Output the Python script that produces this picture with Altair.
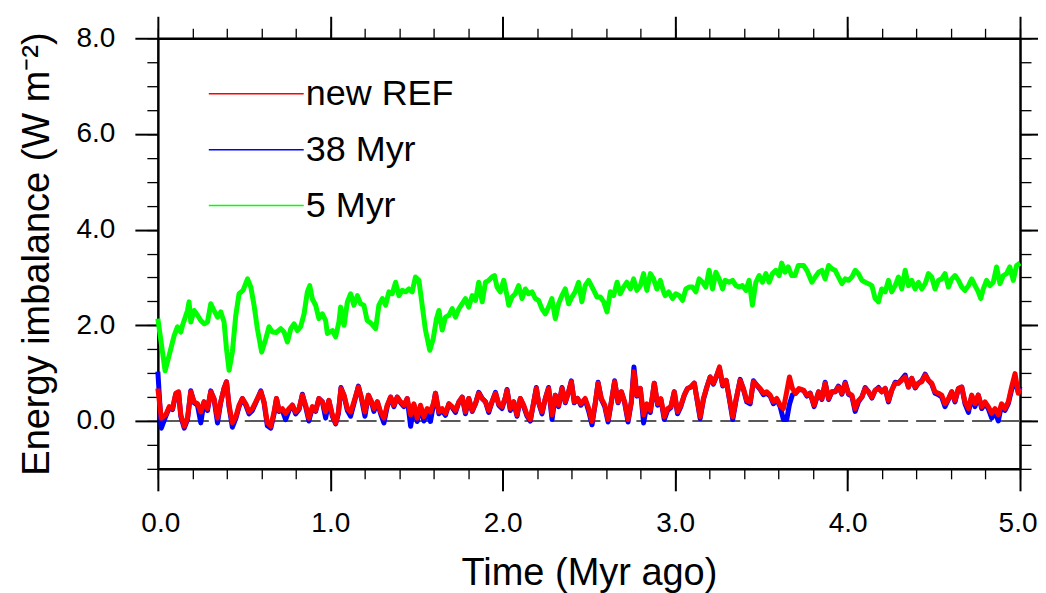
import altair as alt
import pandas as pd

# ---------------- data ----------------
# time axis (Myr ago) shared by "new REF" and "38 Myr"
t_ref = [
    0.0, 0.02, 0.046, 0.066, 0.085, 0.104, 0.12, 0.133, 0.153, 0.172,
    0.191, 0.21, 0.23, 0.249, 0.268, 0.288, 0.307, 0.326, 0.346, 0.365,
    0.384, 0.398, 0.413, 0.432, 0.452, 0.471, 0.49, 0.51, 0.529, 0.548,
    0.568, 0.597, 0.616, 0.635, 0.655, 0.674, 0.688, 0.703, 0.722, 0.741,
    0.761, 0.78, 0.799, 0.819, 0.838, 0.857, 0.876, 0.896, 0.915, 0.934,
    0.954, 0.973, 0.992, 1.012, 1.031, 1.047, 1.062, 1.08, 1.099, 1.118,
    1.137, 1.163, 1.182, 1.201, 1.221, 1.24, 1.253, 1.273, 1.292, 1.311,
    1.33, 1.35, 1.369, 1.388, 1.408, 1.427, 1.446, 1.466, 1.485, 1.504,
    1.523, 1.543, 1.562, 1.581, 1.601, 1.61, 1.63, 1.649, 1.668, 1.688,
    1.707, 1.726, 1.746, 1.765, 1.784, 1.803, 1.823, 1.842, 1.861, 1.881,
    1.9, 1.919, 1.938, 1.958, 1.977, 1.996, 2.016, 2.025, 2.044, 2.064,
    2.083, 2.102, 2.122, 2.141, 2.16, 2.18, 2.195, 2.208, 2.228, 2.247,
    2.266, 2.286, 2.305, 2.324, 2.344, 2.363, 2.382, 2.398, 2.415, 2.434,
    2.453, 2.478, 2.499, 2.518, 2.538, 2.553, 2.572, 2.592, 2.611, 2.63,
    2.649, 2.669, 2.688, 2.707, 2.727, 2.746, 2.761, 2.778, 2.798, 2.817,
    2.836, 2.856, 2.879, 2.898, 2.917, 2.937, 2.956, 2.975, 2.995, 3.014,
    3.033, 3.053, 3.072, 3.091, 3.111, 3.13, 3.145, 3.164, 3.184, 3.203,
    3.222, 3.242, 3.257, 3.276, 3.296, 3.315, 3.334, 3.354, 3.377, 3.396,
    3.415, 3.435, 3.454, 3.473, 3.493, 3.512, 3.531, 3.551, 3.57, 3.589,
    3.609, 3.628, 3.647, 3.663, 3.68, 3.699, 3.718, 3.745, 3.764, 3.783,
    3.806, 3.832, 3.851, 3.87, 3.89, 3.909, 3.928, 3.947, 3.967, 3.986,
    4.005, 4.025, 4.044, 4.063, 4.083, 4.102, 4.121, 4.141, 4.16, 4.179,
    4.198, 4.218, 4.237, 4.256, 4.276, 4.295, 4.314, 4.334, 4.353, 4.372,
    4.392, 4.411, 4.43, 4.45, 4.469, 4.488, 4.507, 4.527, 4.546, 4.565,
    4.585, 4.604, 4.623, 4.643, 4.662, 4.681, 4.701, 4.72, 4.739, 4.758,
    4.778, 4.797, 4.816, 4.836, 4.855, 4.874, 4.893, 4.913, 4.932, 4.951,
    4.971, 4.99, 5.0,
]

# "new REF" energy imbalance (W m-2)
v_ref = [
    0.68, 0.06, 0.13, 0.30, 0.26, 0.58, 0.61, 0.13, -0.11, 0.06,
    0.61, 0.40, 0.36, 0.19, 0.40, 0.26, 0.61, 0.47, 0.06, 0.40,
    0.68, 0.82, 0.33, -0.04, 0.09, 0.33, 0.47, 0.36, 0.19, 0.26,
    0.40, 0.61, 0.40, -0.04, -0.11, 0.19, 0.47, 0.22, 0.26, 0.16,
    0.26, 0.33, 0.19, 0.26, 0.54, 0.33, 0.06, 0.30, 0.22, 0.47,
    0.40, 0.19, 0.43, 0.13, -0.04, 0.19, 0.68, 0.54, 0.26, 0.19,
    0.40, 0.71, 0.47, 0.19, 0.54, 0.40, 0.26, 0.40, 0.19, 0.06,
    0.33, 0.50, 0.33, 0.50, 0.40, 0.33, 0.47, 0.13, 0.36, 0.06,
    0.33, 0.09, 0.26, 0.19, 0.40, 0.58, 0.19, 0.26, 0.16, 0.36,
    0.30, 0.22, 0.40, 0.50, 0.19, 0.47, 0.22, 0.36, 0.58, 0.47,
    0.40, 0.22, 0.40, 0.58, 0.36, 0.30, 0.50, 0.64, 0.26, 0.40,
    0.13, 0.47, 0.33, 0.13, 0.03, 0.40, 0.68, 0.40, 0.19, 0.47,
    0.68, 0.13, 0.54, 0.33, 0.68, 0.40, 0.61, 0.82, 0.40, 0.47,
    0.36, 0.47, 0.26, -0.01, 0.40, 0.79, 0.47, 0.33, 0.03, 0.40,
    0.82, 0.40, 0.61, 0.40, 0.03, 0.40, 1.03, 0.54, 0.68, 0.13,
    0.36, 0.22, 0.79, 0.36, 0.47, 0.09, 0.26, 0.30, 0.61, 0.19,
    0.33, 0.54, 0.68, 0.71, 0.79, 0.40, 0.09, 0.47, 0.71, 0.92,
    0.79, 0.96, 1.13, 0.75, 0.85, 0.47, 0.09, 0.47, 0.85, 0.68,
    0.43, 0.40, 0.82, 0.75, 0.68, 0.58, 0.61, 0.54, 0.40, 0.47,
    0.33, 0.26, 0.61, 0.92, 0.68, 0.58, 0.68, 0.64, 0.54, 0.58,
    0.33, 0.61, 0.47, 0.79, 0.47, 0.61, 0.61, 0.71, 0.58, 0.79,
    0.58, 0.54, 0.26, 0.43, 0.50, 0.68, 0.61, 0.50, 0.64, 0.68,
    0.61, 0.68, 0.43, 0.64, 0.79, 0.79, 0.85, 0.92, 0.71, 0.89,
    0.71, 0.79, 0.82, 0.96, 0.85, 0.79, 0.61, 0.58, 0.54, 0.36,
    0.47, 0.61, 0.43, 0.68, 0.71, 0.40, 0.26, 0.54, 0.36, 0.54,
    0.30, 0.40, 0.30, 0.16, 0.26, 0.13, 0.36, 0.26, 0.40, 0.71,
    0.99, 0.58, 0.68,
]

# "38 Myr" energy imbalance (W m-2)
v_38 = [
    1.03, -0.15, 0.10, 0.28, 0.24, 0.56, 0.60, 0.10, -0.15, 0.03,
    0.63, 0.38, 0.33, -0.04, 0.40, 0.22, 0.63, 0.45, -0.04, 0.40,
    0.68, 0.82, 0.30, -0.13, 0.05, 0.30, 0.47, 0.33, 0.15, 0.22,
    0.38, 0.63, 0.38, -0.10, -0.15, 0.15, 0.47, 0.20, 0.22, 0.03,
    0.22, 0.33, 0.15, 0.24, 0.56, 0.30, 0.00, 0.28, 0.20, 0.47,
    0.40, 0.06, 0.43, 0.10, -0.06, 0.15, 0.70, 0.52, 0.22, 0.10,
    0.36, 0.73, 0.45, 0.10, 0.54, 0.38, 0.20, 0.40, 0.15, -0.04,
    0.30, 0.50, 0.30, 0.50, 0.38, 0.30, 0.47, -0.11, 0.33, -0.01,
    0.30, 0.00, 0.22, -0.01, 0.40, 0.58, 0.15, 0.22, 0.12, 0.36,
    0.28, 0.18, 0.40, 0.50, 0.15, 0.47, 0.20, 0.36, 0.60, 0.47,
    0.40, 0.18, 0.40, 0.60, 0.33, 0.26, 0.50, 0.66, 0.22, 0.40,
    0.10, 0.47, 0.30, 0.10, 0.00, 0.40, 0.70, 0.38, 0.15, 0.47,
    0.70, 0.03, 0.54, 0.30, 0.70, 0.38, 0.61, 0.84, 0.38, 0.47,
    0.33, 0.45, 0.20, -0.08, 0.40, 0.81, 0.45, 0.30, -0.02, 0.40,
    0.84, 0.38, 0.61, 0.38, -0.02, 0.40, 1.13, 0.52, 0.68, -0.04,
    0.33, 0.18, 0.79, 0.33, 0.45, 0.03, 0.22, 0.28, 0.61, 0.15,
    0.30, 0.54, 0.68, 0.71, 0.79, 0.38, 0.05, 0.45, 0.71, 0.92,
    0.77, 0.96, 1.10, 0.73, 0.85, 0.45, 0.03, 0.45, 0.87, 0.66,
    0.40, 0.36, 0.84, 0.75, 0.66, 0.55, 0.58, 0.52, 0.36, 0.45,
    0.30, 0.03, 0.03, 0.35, 0.55, 0.58, 0.66, 0.64, 0.52, 0.58,
    0.30, 0.61, 0.45, 0.81, 0.45, 0.61, 0.61, 0.73, 0.56, 0.81,
    0.56, 0.52, 0.20, 0.40, 0.50, 0.70, 0.61, 0.48, 0.64, 0.70,
    0.61, 0.68, 0.40, 0.64, 0.81, 0.79, 0.87, 0.96, 0.71, 0.89,
    0.69, 0.79, 0.84, 0.98, 0.85, 0.77, 0.58, 0.55, 0.50, 0.30,
    0.45, 0.61, 0.40, 0.68, 0.71, 0.36, 0.18, 0.52, 0.30, 0.54,
    0.26, 0.36, 0.26, 0.06, 0.20, 0.00, 0.33, 0.22, 0.36, 0.65,
    0.85, 0.60, 0.72,
]

# "5 Myr" time axis and energy imbalance (W m-2)
t_5 = [
    0.0, 0.042, 0.066, 0.095, 0.114, 0.133, 0.143, 0.172, 0.181, 0.191,
    0.21, 0.23, 0.249, 0.268, 0.288, 0.307, 0.326, 0.346, 0.365, 0.384,
    0.398, 0.413, 0.432, 0.452, 0.471, 0.494, 0.52, 0.539, 0.558, 0.577,
    0.602, 0.626, 0.645, 0.664, 0.688, 0.713, 0.732, 0.751, 0.771, 0.79,
    0.809, 0.828, 0.848, 0.867, 0.881, 0.896, 0.915, 0.934, 0.954, 0.973,
    0.983, 1.012, 1.031, 1.05, 1.06, 1.08, 1.099, 1.118, 1.137, 1.157,
    1.176, 1.195, 1.214, 1.234, 1.263, 1.282, 1.302, 1.321, 1.34, 1.359,
    1.379, 1.398, 1.417, 1.437, 1.456, 1.475, 1.494, 1.514, 1.533, 1.552,
    1.577, 1.597, 1.616, 1.63, 1.649, 1.668, 1.688, 1.707, 1.726, 1.746,
    1.765, 1.784, 1.803, 1.823, 1.842, 1.861, 1.881, 1.9, 1.919, 1.938,
    1.952, 1.967, 1.986, 2.006, 2.025, 2.035, 2.054, 2.073, 2.092, 2.112,
    2.131, 2.15, 2.17, 2.189, 2.208, 2.227, 2.247, 2.266, 2.285, 2.305,
    2.324, 2.343, 2.363, 2.382, 2.401, 2.42, 2.44, 2.459, 2.478, 2.498,
    2.528, 2.547, 2.566, 2.586, 2.605, 2.624, 2.643, 2.663, 2.682, 2.701,
    2.72, 2.74, 2.759, 2.778, 2.798, 2.817, 2.836, 2.856, 2.875, 2.894,
    2.914, 2.933, 2.942, 2.962, 2.985, 3.004, 3.024, 3.043, 3.062, 3.082,
    3.101, 3.12, 3.139, 3.159, 3.178, 3.197, 3.217, 3.236, 3.255, 3.275,
    3.29, 3.313, 3.333, 3.352, 3.371, 3.39, 3.41, 3.429, 3.448, 3.468,
    3.487, 3.506, 3.526, 3.545, 3.564, 3.584, 3.603, 3.618, 3.637, 3.656,
    3.676, 3.695, 3.714, 3.745, 3.764, 3.793, 3.812, 3.832, 3.851, 3.87,
    3.89, 3.909, 3.928, 3.947, 3.967, 3.986, 4.005, 4.025, 4.044, 4.063,
    4.083, 4.102, 4.121, 4.141, 4.16, 4.179, 4.198, 4.218, 4.237, 4.256,
    4.276, 4.295, 4.314, 4.334, 4.353, 4.372, 4.392, 4.411, 4.43, 4.45,
    4.469, 4.488, 4.507, 4.527, 4.546, 4.565, 4.585, 4.604, 4.623, 4.643,
    4.662, 4.681, 4.701, 4.72, 4.739, 4.758, 4.772, 4.787, 4.806, 4.826,
    4.845, 4.864, 4.884, 4.903, 4.922, 4.941, 4.961, 4.98, 5.0,
]
v_5 = [
    2.14, 1.05, 1.38, 1.79, 1.97, 1.86, 2.00, 2.31, 2.49, 2.07,
    2.31, 2.21, 2.10, 2.03, 2.07, 2.45, 2.31, 2.17, 2.28, 2.07,
    1.51, 1.06, 1.44, 2.21, 2.66, 2.73, 2.97, 2.80, 2.42, 1.93,
    1.44, 1.72, 1.97, 1.86, 1.85, 1.93, 1.86, 1.65, 1.93, 2.03,
    1.89, 1.97, 2.24, 2.70, 2.83, 2.55, 2.42, 2.14, 2.24, 2.10,
    1.83, 1.89, 1.76, 2.07, 2.38, 2.00, 2.49, 2.66, 2.42, 2.62,
    2.45, 2.42, 2.10, 2.05, 1.93, 2.42, 2.56, 2.42, 2.70, 2.66,
    2.90, 2.62, 2.73, 2.70, 2.76, 2.70, 3.01, 2.94, 2.42, 1.90,
    1.48, 1.72, 2.14, 2.31, 1.90, 2.17, 2.21, 2.35, 2.17, 2.35,
    2.45, 2.56, 2.38, 2.62, 2.52, 2.90, 2.49, 2.90, 2.94, 3.01,
    3.04, 2.80, 2.70, 2.94, 2.62, 2.42, 2.59, 2.66, 2.83, 2.56,
    2.76, 2.66, 2.70, 2.56, 2.52, 2.35, 2.24, 2.38, 2.56, 2.14,
    2.45, 2.62, 2.76, 2.45, 2.59, 2.70, 2.90, 2.49, 2.83, 2.94,
    2.73, 2.59, 2.59, 2.49, 2.28, 2.70, 2.62, 2.90, 2.66, 2.80,
    2.90, 2.76, 2.97, 2.73, 2.83, 3.08, 2.73, 3.08, 2.97, 2.76,
    2.94, 2.70, 2.62, 2.70, 2.56, 2.66, 2.62, 2.52, 2.76, 2.80,
    2.80, 2.70, 2.97, 2.90, 2.80, 3.15, 2.76, 3.11, 2.97, 2.76,
    2.94, 2.90, 2.94, 2.83, 2.80, 2.83, 2.73, 2.94, 2.42, 2.90,
    3.04, 2.90, 3.08, 2.90, 3.08, 3.15, 3.04, 3.30, 3.11, 3.22,
    3.04, 3.04, 3.25, 3.25, 3.15, 2.90, 3.01, 3.11, 3.15, 2.97,
    3.25, 3.18, 3.15, 3.01, 2.87, 2.97, 2.94, 3.01, 3.15, 3.08,
    2.94, 2.90, 2.87, 2.83, 2.56, 2.49, 2.76, 2.70, 2.94, 2.70,
    2.83, 3.01, 2.76, 3.15, 2.83, 2.94, 2.76, 2.90, 2.76, 2.87,
    3.08, 3.01, 2.76, 2.94, 2.97, 3.08, 2.80, 2.97, 3.04, 2.94,
    2.80, 2.73, 2.83, 2.97, 2.83, 2.70, 2.56, 2.76, 2.94, 2.83,
    2.90, 3.22, 2.87, 3.04, 3.08, 3.22, 2.94, 3.25, 3.30,
]

SERIES = ["new REF", "38 Myr", "5 Myr"]
COLORS = ["#ff0000", "#0000ff", "#00ff00"]

X_MAJOR = [0, 1, 2, 3, 4, 5]
X_MINOR = [0, 0.2, 0.4, 0.6, 0.8, 1, 1.2, 1.4, 1.6, 1.8, 2, 2.2, 2.4, 2.6,
           2.8, 3, 3.2, 3.4, 3.6, 3.8, 4, 4.2, 4.4, 4.6, 4.8, 5]
Y_MAJOR = [0, 2, 4, 6, 8]
Y_MINOR = [-1, -0.5, 0, 0.5, 1, 1.5, 2, 2.5, 3, 3.5, 4, 4.5, 5, 5.5, 6,
           6.5, 7, 7.5, 8]
X_DOMAIN = [0, 5]
Y_DOMAIN = [-1, 8]

FONT = "Liberation Sans"

# ---------------- tables ----------------
df_ref = pd.DataFrame({"t": t_ref, "v": v_ref, "series": SERIES[0]})
df_38 = pd.DataFrame({"t": t_ref, "v": v_38, "series": SERIES[1]})
df_5 = pd.DataFrame({"t": t_5, "v": v_5, "series": SERIES[2]})
df_frame = pd.DataFrame({"t": X_DOMAIN, "v": Y_DOMAIN})
df_zero = pd.DataFrame({"z": [0]})

xs = alt.Scale(domain=X_DOMAIN, nice=False, zero=False)
ys = alt.Scale(domain=Y_DOMAIN, nice=False, zero=False)

MAJ_T = 22
MIN_T = 10


def x_axis(orient, major, labels):
    kw = dict(
        orient=orient,
        values=X_MAJOR if major else X_MINOR,
        tickSize=MAJ_T if major else MIN_T,
        tickWidth=2 if major else 1.3,
        tickColor="black",
        labels=labels,
        domain=major,
        domainColor="black",
        domainWidth=2.5,
        grid=False,
        title="Time (Myr ago)" if labels else None,
    )
    if labels:
        kw.update(format=".1f", labelFontSize=28, labelFont=FONT,
                  labelColor="black", labelPadding=19,
                  labelFlush=True, labelFlushOffset=17,
                  titleFontSize=38, titleFont=FONT, titleFontWeight="normal",
                  titleColor="black", titlePadding=17)
    return alt.Axis(**kw)


def y_axis(orient, major, labels):
    kw = dict(
        orient=orient,
        values=Y_MAJOR if major else Y_MINOR,
        tickSize=MAJ_T + 1 if major else MIN_T + 1,
        tickWidth=2 if major else 1.3,
        tickColor="black",
        labels=labels,
        domain=major,
        domainColor="black",
        domainWidth=2.5,
        grid=False,
        title="Energy imbalance (W m\u207b\u00b2)" if labels else None,
    )
    if labels:
        kw.update(format=".1f", labelFontSize=28, labelFont=FONT,
                  labelColor="black", labelPadding=20, labelFlush=False,
                  titleFontSize=38, titleFont=FONT, titleFontWeight="normal",
                  titleColor="black", titlePadding=20)
    return alt.Axis(**kw)


X_MAIN = alt.X("t:Q", scale=xs, axis=x_axis("bottom", True, True))
Y_MAIN = alt.Y("v:Q", scale=ys, axis=y_axis("left", True, True))

# legend: a long horizontal stroke (custom path twice the unit length)
color = alt.Color(
    "series:N",
    scale=alt.Scale(domain=SERIES, range=COLORS),
    legend=alt.Legend(
        orient="none", legendX=74, legendY=31, title=None,
        symbolType="M-2,0H2", symbolSize=2256, symbolStrokeWidth=1.5,
        symbolFillColor="transparent",
        labelFontSize=36, labelFont=FONT, labelColor="black",
        labelOffset=25, rowPadding=13, padding=0,
    ),
)

zero_line = alt.Chart(df_zero).mark_rule(
    color="#5a5a5a", strokeDash=[20, 8], strokeWidth=2
).encode(y=alt.Y("z:Q", scale=ys, axis=y_axis("left", True, True)))


def series_line(df):
    return alt.Chart(df).mark_line(strokeWidth=5, strokeJoin="round").encode(
        x=X_MAIN, y=Y_MAIN, color=color
    )


main = alt.layer(zero_line, series_line(df_5), series_line(df_38),
                 series_line(df_ref))


def frame_layer(xo, yo, major):
    return alt.Chart(df_frame).mark_point(opacity=0).encode(
        x=alt.X("t:Q", scale=xs, axis=x_axis(xo, major, False)),
        y=alt.Y("v:Q", scale=ys, axis=y_axis(yo, major, False)),
    )


# the page's flex container is 1030 px wide: keep the svg within it
chart = alt.layer(
    main,
    frame_layer("bottom", "left", False),
    frame_layer("top", "right", True),
    frame_layer("top", "right", False),
).resolve_scale(x="independent", y="independent").properties(
    width=863, height=431,
    padding={"left": 10, "top": 7, "right": -6, "bottom": 5},
).configure_view(stroke=None).configure(background="white")

chart.save("out.html", embed_options={"renderer": "svg", "actions": False})
